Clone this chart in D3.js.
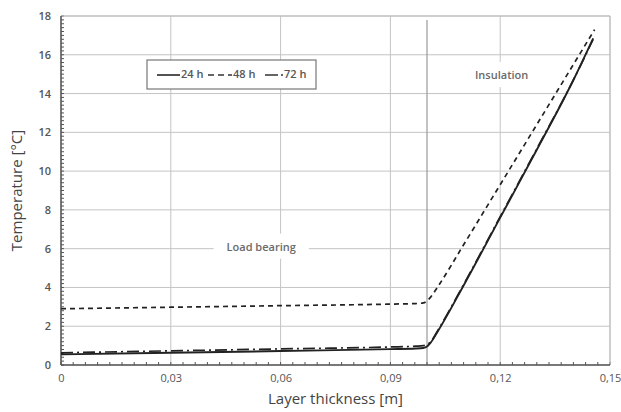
<!DOCTYPE html>
<html>
<head>
<meta charset="utf-8">
<style>
  body { margin: 0; background: #fff; }
  text { font-family: "Open Sans", "Noto Sans", sans-serif; }
</style>
</head>
<body>
<svg id="chart" width="621" height="412"></svg>
<script src="https://cdn.jsdelivr.net/npm/d3@7"></script>
<script>
// thickness [m] and temperature [°C]
var thick24 = [0, 0.03, 0.06, 0.09, 0.097, 0.099, 0.1, 0.101, 0.103, 0.11, 0.12, 0.13, 0.14, 0.1454];
var temp24  = [0.55, 0.63, 0.72, 0.82, 0.85, 0.88, 0.95, 1.15, 1.75, 4.1, 7.6, 11.1, 14.7, 16.85];
var thick48 = [0, 0.03, 0.06, 0.09, 0.097, 0.099, 0.1, 0.101, 0.103, 0.11, 0.12, 0.13, 0.14, 0.1458];
var temp48  = [2.9, 2.98, 3.06, 3.14, 3.17, 3.2, 3.3, 3.5, 4.05, 6.2, 9.3, 12.4, 15.5, 17.3];
var thick72 = [0, 0.03, 0.06, 0.09, 0.097, 0.099, 0.1, 0.101, 0.103, 0.11, 0.12, 0.13, 0.14, 0.1454];
var temp72  = [0.63, 0.73, 0.83, 0.93, 0.97, 1.0, 1.05, 1.2, 1.8, 4.15, 7.65, 11.15, 14.7, 16.8];
var seriesNames = ["24 h", "48 h", "72 h"];
var xTicks = [0, 0.03, 0.06, 0.09, 0.12, 0.15];
var yTicks = [0, 2, 4, 6, 8, 10, 12, 14, 16, 18];

var W = 621, H = 412;
var margin = {top: 16, right: 11, bottom: 47, left: 61};
var svg = d3.select('#chart');

var x = d3.scaleLinear().domain([0, 0.15]).range([margin.left, W - margin.right]);
var y = d3.scaleLinear().domain([0, 18]).range([H - margin.bottom, margin.top]);

// grid
svg.append('g').selectAll('line').data(xTicks).enter().append('line')
  .attr('x1', function(d) { return x(d); }).attr('x2', function(d) { return x(d); })
  .attr('y1', y(0)).attr('y2', y(18))
  .attr('stroke', '#c4c4c4').attr('stroke-width', 1);
svg.append('g').selectAll('line').data(yTicks).enter().append('line')
  .attr('x1', x(0)).attr('x2', x(0.15))
  .attr('y1', function(d) { return y(d); }).attr('y2', function(d) { return y(d); })
  .attr('stroke', '#c4c4c4').attr('stroke-width', 1);

// layer boundary
svg.append('line')
  .attr('x1', x(0.1)).attr('x2', x(0.1))
  .attr('y1', y(17.8)).attr('y2', y(0))
  .attr('stroke', '#999').attr('stroke-width', 1.2);

// region labels with white backing
function regionLabel(tx, ty, txt) {
  var g = svg.append('g');
  var t = g.append('text').attr('x', x(tx)).attr('y', y(ty))
    .attr('text-anchor', 'middle').attr('dominant-baseline', 'middle')
    .attr('font-size', 11).attr('font-weight', 600).attr('fill', '#6a6a6a').text(txt);
  var bb = t.node().getBBox();
  g.insert('rect', 'text').attr('x', bb.x - 13).attr('y', bb.y - 5)
    .attr('width', bb.width + 26).attr('height', bb.height + 10).attr('fill', '#fff');
}
regionLabel(0.0547, 6.05, 'Load bearing');
regionLabel(0.1204, 14.9, 'Insulation');

// axes
var xAxis = d3.axisBottom(x).tickValues(xTicks).tickSize(0).tickPadding(9)
  .tickFormat(function(d) { return d === 0 ? '0' : d3.format('.2f')(d).replace('.', ','); });
var gx = svg.append('g').attr('transform', 'translate(0,' + y(0) + ')').call(xAxis);
gx.select('.domain').remove();
gx.selectAll('text').attr('font-size', 11).attr('fill', '#555').attr('font-family', '"Open Sans", sans-serif');

var yAxis = d3.axisLeft(y).tickValues(yTicks).tickSize(0).tickPadding(10);
var gy = svg.append('g').attr('transform', 'translate(' + x(0) + ',0)').call(yAxis);
gy.select('.domain').remove();
gy.selectAll('text').attr('font-size', 11).attr('font-weight', 600).attr('fill', '#555').attr('font-family', '"Open Sans", sans-serif');

// minor ticks
var xMinor = d3.range(0, 0.15 + 1e-9, 0.01 / 3);
svg.append('g').selectAll('line').data(xMinor).enter().append('line')
  .attr('x1', function(d) { return x(d); }).attr('x2', function(d) { return x(d); })
  .attr('y1', y(0)).attr('y2', y(0) - 3)
  .attr('stroke', '#555').attr('stroke-width', 1);
var yMinor = d3.range(0, 18 + 1e-9, 0.2);
svg.append('g').selectAll('line').data(yMinor).enter().append('line')
  .attr('x1', x(0)).attr('x2', x(0) + 3)
  .attr('y1', function(d) { return y(d); }).attr('y2', function(d) { return y(d); })
  .attr('stroke', '#555').attr('stroke-width', 1);

// frame
svg.append('line').attr('x1', x(0)).attr('x2', x(0.15)).attr('y1', y(18)).attr('y2', y(18)).attr('stroke', '#bbb');
svg.append('line').attr('x1', x(0.15)).attr('x2', x(0.15)).attr('y1', y(18)).attr('y2', y(0)).attr('stroke', '#bbb');
svg.append('line').attr('x1', x(0)).attr('x2', x(0)).attr('y1', y(18)).attr('y2', y(0)).attr('stroke', '#555').attr('stroke-width', 1.5);
svg.append('line').attr('x1', x(0)).attr('x2', x(0.15)).attr('y1', y(0)).attr('y2', y(0)).attr('stroke', '#555').attr('stroke-width', 1.5);

// series
var dashes = [null, '5,4', '12,4,2,4'];
var series = [
  d3.zip(thick24, temp24),
  d3.zip(thick48, temp48),
  d3.zip(thick72, temp72)
];
var line = d3.line().x(function(d) { return x(d[0]); }).y(function(d) { return y(d[1]); })
  .curve(d3.curveMonotoneX);
[2, 1, 0].forEach(function(i) {
  svg.append('path').datum(series[i])
    .attr('d', line).attr('fill', 'none')
    .attr('stroke', '#222').attr('stroke-width', i === 0 ? 1.9 : 1.7)
    .attr('stroke-dasharray', dashes[i]);
});

// legend
var lg = svg.append('g').attr('transform', 'translate(147,60)');
lg.append('rect').attr('width', 169).attr('height', 29)
  .attr('fill', '#fff').attr('stroke', '#777').attr('stroke-width', 1.2);
var legendX = [10, 61, 118];
var sampleW = [23, 24, 18];
seriesNames.forEach(function(n, i) {
  lg.append('line').attr('x1', legendX[i]).attr('x2', legendX[i] + sampleW[i])
    .attr('y1', 15).attr('y2', 15).attr('stroke', '#333').attr('stroke-width', 1.7)
    .attr('stroke-dasharray', i === 1 ? '6,4' : (i === 2 ? '13,3,2,0' : null));
  lg.append('text').attr('x', legendX[i] + sampleW[i] + 1).attr('y', 15)
    .attr('dominant-baseline', 'middle').attr('font-size', 11).attr('font-weight', 600)
    .attr('fill', '#555').text(n);
});

// axis titles
svg.append('text').attr('x', (x(0) + x(0.15)) / 2).attr('y', 404)
  .attr('text-anchor', 'middle').attr('font-size', 15).attr('fill', '#444')
  .text('Layer thickness [m]');
svg.append('text').attr('transform', 'translate(22,' + ((y(0) + y(18)) / 2) + ') rotate(-90)')
  .attr('text-anchor', 'middle').attr('font-size', 15).attr('fill', '#444')
  .text('Temperature [°C]');
</script>
</body>
</html>
